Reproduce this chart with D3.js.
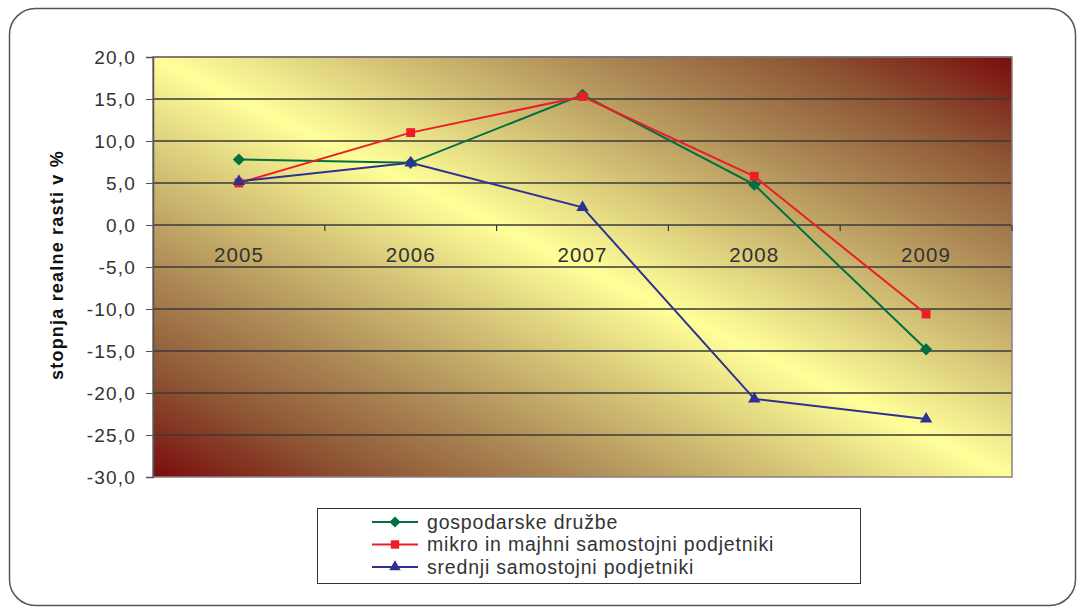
<!DOCTYPE html>
<html><head><meta charset="utf-8">
<script src="https://cdn.jsdelivr.net/npm/d3@7"></script>
<style>
html,body{margin:0;padding:0;background:#fff;}
text{font-family:"Liberation Sans",Arial,sans-serif;}
</style></head>
<body>
<svg id="c" width="1082" height="612"></svg>
<script>
const years = ["2005","2006","2007","2008","2009"];
const yTicks = [20,15,10,5,0,-5,-10,-15,-20,-25,-30];
const seriesNames = ["gospodarske družbe","mikro in majhni samostojni podjetniki","srednji samostojni podjetniki"];
const gospodarske = [7.8, 7.4, 15.5, 4.8, -14.8];
const mikro = [5.0, 11.0, 15.3, 5.8, -10.6];
const srednji = [5.2, 7.4, 2.1, -20.7, -23.1];
const colors = ["#007040","#ee1c24","#2e3192"];
const symbols = [d3.symbolDiamond2, d3.symbolSquare2, d3.symbolTriangle2];

const svg = d3.select("#c");
const defs = svg.append("defs");
const g1 = defs.append("linearGradient").attr("id","bg").attr("x1","0").attr("y1","1").attr("x2","1").attr("y2","0");
const stops = [[0,"#7a0c0c"],[0.12,"#8c5232"],[0.25,"#ad8a56"],[0.38,"#d6c678"],[0.5,"#ffff99"],
               [0.62,"#d6c678"],[0.75,"#ad8a56"],[0.88,"#8c5232"],[1,"#7a0c0c"]];
stops.forEach(s=>g1.append("stop").attr("offset",s[0]).attr("stop-color",s[1]));

// outer frame
svg.append("rect").attr("x",9.5).attr("y",8.5).attr("width",1066).attr("height",597)
  .attr("rx",26).attr("ry",26).attr("fill","#fff").attr("stroke","#555").attr("stroke-width",1.5);

const L=153, R=1012, T=57, B=477;
const x = d3.scaleBand().domain(years).range([L,R]);
const y = d3.scaleLinear().domain([-30,20]).range([B,T]);

svg.append("rect").attr("x",L).attr("y",T).attr("width",R-L).attr("height",B-T).attr("fill","url(#bg)");

// gridlines
svg.append("g").selectAll("line").data(yTicks.filter(v=>v!==-30)).join("line")
  .attr("x1",L).attr("x2",R).attr("y1",d=>y(d)).attr("y2",d=>y(d))
  .attr("stroke","#3a3a3a").attr("stroke-width",1.3);

// plot border
svg.append("rect").attr("x",L).attr("y",T).attr("width",R-L).attr("height",B-T)
  .attr("fill","none").attr("stroke","#8a8080").attr("stroke-width",1.5);

// y axis
const yAx = svg.append("g").attr("transform",`translate(${L},0)`)
  .call(d3.axisLeft(y).tickValues(yTicks).tickSize(7).tickPadding(10)
    .tickFormat(d=>d3.format(".1f")(d).replace(".",",").replace("−","-")));
yAx.select(".domain").attr("stroke","#555").attr("stroke-width",1.5);
yAx.selectAll(".tick line").attr("stroke","#555");
yAx.selectAll("text").attr("font-size",19).attr("fill","#333").attr("letter-spacing","1.2")
  .attr("font-family","Liberation Sans, Arial, sans-serif");

// x axis on zero
const xAx = svg.append("g").attr("transform",`translate(0,${y(0)})`)
  .call(d3.axisBottom(x).tickSize(0).tickPadding(22));
xAx.select(".domain").remove();
xAx.selectAll("text").attr("font-size",20.5).attr("fill","#333").attr("letter-spacing","1.1")
  .attr("font-family","Liberation Sans, Arial, sans-serif");
// category boundary ticks
const bounds = years.slice(1).map(d=>x(d)).concat([R]);
svg.append("g").selectAll("line").data(bounds).join("line")
  .attr("x1",d=>d).attr("x2",d=>d).attr("y1",y(0)).attr("y2",y(0)+6)
  .attr("stroke","#3a3a3a").attr("stroke-width",1.2);

// y title
svg.append("text").attr("transform",`translate(63,${(T+B)/2 - 2}) rotate(-90)`)
  .attr("text-anchor","middle").attr("font-size",18).attr("font-weight","bold").attr("fill","#111")
  .attr("letter-spacing","1.2")
  .text("stopnja realne rasti v %");

const data = [gospodarske, mikro, srednji];
const cx = d=>x(d)+x.bandwidth()/2;
const line = d3.line().x((d,i)=>cx(years[i])).y(d=>y(d));
data.forEach((vals,k)=>{
  svg.append("path").attr("d",line(vals)).attr("fill","none").attr("stroke",colors[k]).attr("stroke-width",2);
});
data.forEach((vals,k)=>{
  svg.append("g").selectAll("path").data(vals).join("path")
    .attr("transform",(d,i)=>`translate(${cx(years[i])},${y(d)})`)
    .attr("d",d3.symbol().type(symbols[k]).size(k===0?95:(k===1?100:110)))
    .attr("fill",colors[k]);
});

// legend
const lg = svg.append("g");
lg.append("rect").attr("x",317.5).attr("y",508.5).attr("width",543).attr("height",75)
  .attr("fill","#fff").attr("stroke","#333").attr("stroke-width",1);
seriesNames.forEach((n,k)=>{
  const yy = 522 + k*22.5;
  lg.append("line").attr("x1",372).attr("x2",418).attr("y1",yy).attr("y2",yy).attr("stroke",colors[k]).attr("stroke-width",2);
  lg.append("path").attr("transform",`translate(395,${yy})`).attr("d",d3.symbol().type(symbols[k]).size(k===0?80:(k===1?90:95))).attr("fill",colors[k]);
  lg.append("text").attr("x",427).attr("y",yy+6.5).attr("font-size",19.5).attr("fill","#333").attr("letter-spacing","0.8").text(n);
});
</script>
</body></html>
